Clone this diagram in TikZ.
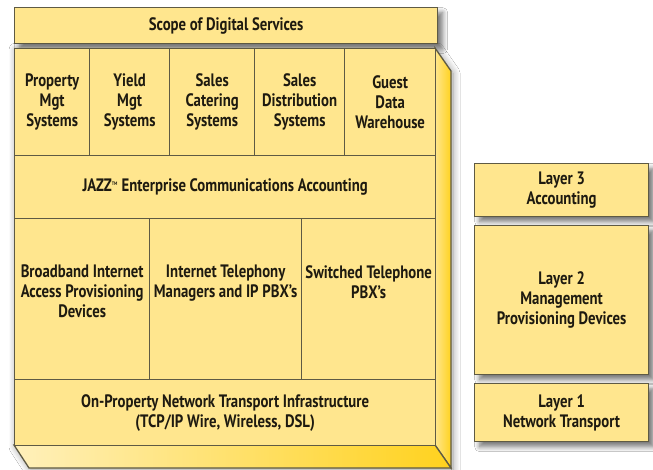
\documentclass[tikz,border=0pt]{standalone}
\usepackage{fontspec}
\setmainfont{PT Sans}[FakeStretch=0.82]
\usetikzlibrary{shadows.blur}
\definecolor{cellfill}{HTML}{FFE68E}
\definecolor{edgec}{HTML}{5E5A44}
\definecolor{goldc}{HTML}{FFD21E}
\definecolor{inkc}{HTML}{1E1A10}
\tikzset{
  cell/.style={draw=edgec, line width=1.3pt, fill=cellfill, align=center, inner sep=0pt,
    anchor=north west, font=\bfseries\fontsize{18}{20}\selectfont, text=inkc},
  txt/.style={align=center, inner sep=0pt, anchor=north, font=\bfseries\fontsize{18}{20}\selectfont, text=inkc},
  face/.style={draw=edgec, line width=1.3pt},
  shad/.style={blur shadow={shadow xshift=5pt, shadow yshift=-5pt, shadow blur radius=5pt, shadow blur steps=10, shadow opacity=55}},
  bshad/.style={blur shadow={shadow xshift=2pt, shadow yshift=-2pt, shadow blur radius=7pt, shadow blur steps=10, shadow opacity=40}}
}
\begin{document}
\begin{tikzpicture}[x=1pt,y=-1pt]
\useasboundingbox[fill=white] (0,0) rectangle (653,470);
% scope bar
\node[cell, shad, minimum width=423pt, minimum height=36pt] (scope) at (14,7) {Scope of Digital Services};
% 3D block
\coordinate (ftl) at (14,48);
\coordinate (ftr) at (435,48);
\coordinate (fbr) at (435,445);
\coordinate (fbl) at (14,445);
\coordinate (btr) at (451,71);
\coordinate (bbr) at (451,468);
\coordinate (bbl) at (29,468);
\path[bshad, fill=cellfill] (ftl)--(ftr)--(btr)--(bbr)--(bbl)--(fbl)--cycle;
\path[face, left color=cellfill, right color=goldc] (ftr)--(btr)--(bbr)--(fbr)--cycle;
\path[face, left color=cellfill!60!white, right color=goldc] (fbl)--(fbr)--(bbr)--(bbl)--cycle;
% row 1
\node[cell, minimum width=75pt, minimum height=107pt] (pms) at (14,48) {Property\\Mgt\\Systems};
\node[cell, minimum width=80pt, minimum height=107pt] (yms) at (89,48) {Yield\\Mgt\\Systems};
\node[cell, minimum width=85pt, minimum height=107pt] (scs) at (169,48) {Sales\\Catering\\Systems};
\node[cell, minimum width=90pt, minimum height=107pt] (sds) at (254,48) {Sales\\Distribution\\Systems};
\node[cell, minimum width=91pt, minimum height=107pt] (gdw) at (344,48) {Guest\\Data\\Warehouse};
% row 2
\node[cell, minimum width=421pt, minimum height=63pt] (jazz) at (14,155) {JAZZ\textsuperscript{\fontsize{5}{5}\selectfont TM} Enterprise Communications Accounting};
% row 3
\node[cell, minimum width=135pt, minimum height=161pt] (bia) at (14,218) {};
\node[cell, minimum width=152pt, minimum height=161pt] (itm) at (149,218) {};
\node[cell, minimum width=134pt, minimum height=161pt] (stp) at (301,218) {};
\node[txt] (biat) at ([yshift=-47pt]bia.north) {Broadband Internet\\Access Provisioning\\Devices};
\node[txt] (itmt) at ([yshift=-47pt]itm.north) {Internet Telephony\\Managers and IP PBX's};
\node[txt] (stpt) at ([yshift=-47pt]stp.north) {Switched Telephone\\PBX's};
% row 4
\node[cell, minimum width=421pt, minimum height=66pt] (onp) at (14,379) {On-Property Network Transport Infrastructure\\(TCP/IP Wire, Wireless, DSL)};
% layers
\node[cell, shad, minimum width=174pt, minimum height=53pt] (l3) at (474,163) {Layer 3\\Accounting};
\node[cell, shad, minimum width=174pt, minimum height=149pt] (l2) at (474,225) {Layer 2\\Management\\Provisioning Devices};
\node[cell, shad, minimum width=174pt, minimum height=58pt] (l1) at (474,383) {Layer 1\\Network Transport};
\end{tikzpicture}
\end{document}
